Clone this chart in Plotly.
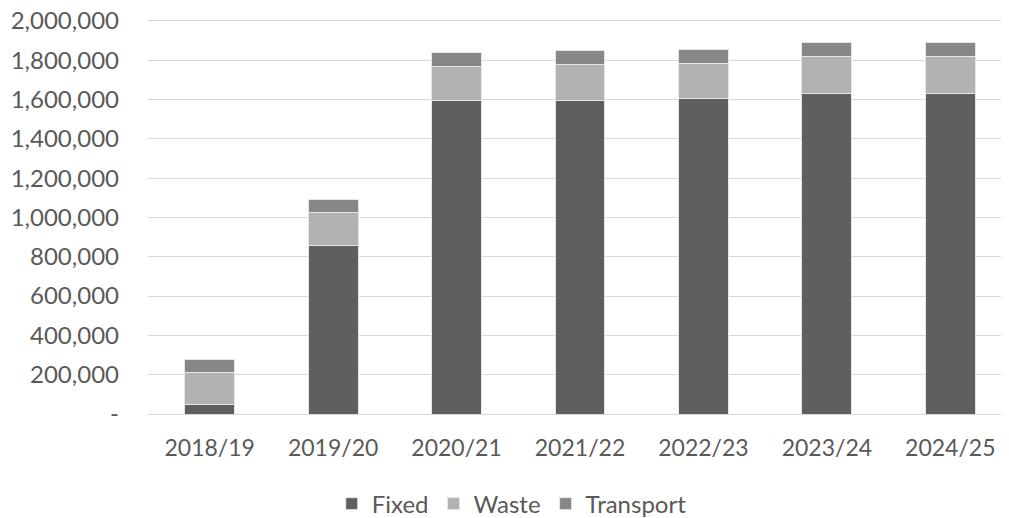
import plotly.graph_objects as go

years = ["2018/19", "2019/20", "2020/21", "2021/22", "2022/23", "2023/24", "2024/25"]
fixed = [47000, 856000, 1596000, 1596000, 1603000, 1631000, 1631000]
waste = [165000, 168000, 173000, 181000, 181000, 189000, 189000]
transport = [65000, 70000, 71000, 71000, 71000, 71000, 71000]

y_tickvals = [0, 200000, 400000, 600000, 800000, 1000000, 1200000, 1400000,
              1600000, 1800000, 2000000]
y_ticktext = ["-", "200,000", "400,000", "600,000", "800,000", "1,000,000",
              "1,200,000", "1,400,000", "1,600,000", "1,800,000", "2,000,000"]

series = [("Fixed", fixed, "#5f5f5f"), ("Waste", waste, "#b2b2b2"),
          ("Transport", transport, "#878787")]

FONT = "Lato"
fig = go.Figure()
for name, vals, col in series:
    fig.add_trace(go.Bar(x=years, y=vals, name=name,
                         marker=dict(color=col, line=dict(color="#e6e6e6", width=1))))

fig.update_layout(
    barmode="stack",
    bargap=0.595,
    width=1009, height=518,
    margin=dict(l=140, r=5, t=11, b=112, autoexpand=False),
    paper_bgcolor="white", plot_bgcolor="white",
    font=dict(family=FONT, size=24, color="#595959"),
    legend=dict(orientation="h", x=0.421, xanchor="center", y=-0.228, yanchor="middle",
                font=dict(family=FONT, size=24, color="#595959"),
                itemwidth=30, traceorder="normal"),
    xaxis=dict(range=[-0.5, 6.5], showgrid=False, showline=False, ticks="",
               automargin=False,
               ticklabelstandoff=18, tickfont=dict(family=FONT, size=23, color="#595959")),
    yaxis=dict(range=[0, 2010000], tickvals=y_tickvals, ticktext=y_ticktext,
               automargin=False, ticklabeloverflow="allow",
               showgrid=True, gridcolor="#d9d9d9", gridwidth=1,
               zeroline=True, zerolinecolor="#d9d9d9", zerolinewidth=1,
               showline=False, ticks="", ticklabelstandoff=28,
               tickfont=dict(family=FONT, size=24, color="#595959")),
)

fig.write_html("out.html")
